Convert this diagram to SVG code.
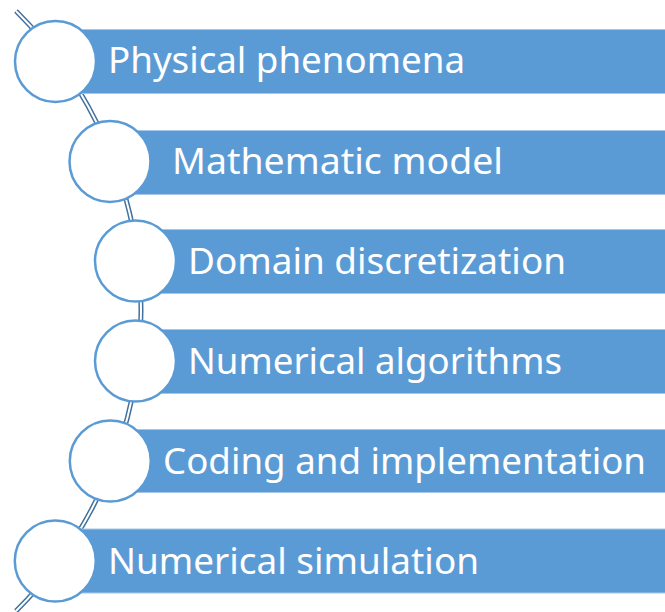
<svg xmlns="http://www.w3.org/2000/svg" width="665" height="612" viewBox="0 0 665 612">
  <style>
    .bar { fill: #5b9bd5; stroke: #a6c7ea; stroke-width: 1; }
    .disc { fill: #ffffff; stroke: #5b9bd5; stroke-width: 2.5; }
    .label { fill: #ffffff; font-family: "Noto Sans", "Open Sans", sans-serif; font-size: 37px; }
    .rail-outer { fill: none; stroke: #41719c; stroke-width: 5; }
    .rail-inner { fill: none; stroke: #ffffff; stroke-width: 2; }
  </style>

  <rect width="665" height="612" fill="#ffffff"/>

  <!-- curved spine behind the step circles -->
  <g id="connectors">
    <path class="rail-outer" d="M 16 11 A 422.5 422.5 0 0 1 16 611"/>
    <path class="rail-inner" d="M 16 11 A 422.5 422.5 0 0 1 16 611"/>
  </g>

  <g id="step-1">
    <rect class="bar" x="55" y="29.5" width="612" height="64"/>
    <circle class="disc" cx="55.5" cy="61.5" r="40.5"/>
    <text class="label" x="108" y="73" textLength="357" lengthAdjust="spacingAndGlyphs">Physical phenomena</text>
  </g>

  <g id="step-2">
    <rect class="bar" x="110" y="130.5" width="557" height="64"/>
    <circle class="disc" cx="110" cy="161.5" r="40.5"/>
    <text class="label" x="172" y="174" textLength="331" lengthAdjust="spacingAndGlyphs">Mathematic model</text>
  </g>

  <g id="step-3">
    <rect class="bar" x="135" y="229.5" width="532" height="64"/>
    <circle class="disc" cx="135.5" cy="261" r="40.5"/>
    <text class="label" x="188" y="273.5" textLength="378" lengthAdjust="spacingAndGlyphs">Domain discretization</text>
  </g>

  <g id="step-4">
    <rect class="bar" x="135" y="329.5" width="532" height="64"/>
    <circle class="disc" cx="135.5" cy="361" r="40.5"/>
    <text class="label" x="188" y="373.5" textLength="374" lengthAdjust="spacingAndGlyphs">Numerical algorithms</text>
  </g>

  <g id="step-5">
    <rect class="bar" x="110" y="429.5" width="557" height="63"/>
    <circle class="disc" cx="110.3" cy="461" r="40.5"/>
    <text class="label" x="163" y="473.5" textLength="483" lengthAdjust="spacingAndGlyphs">Coding and implementation</text>
  </g>

  <g id="step-6">
    <rect class="bar" x="55" y="529" width="612" height="64"/>
    <circle class="disc" cx="55.3" cy="561" r="40.5"/>
    <text class="label" x="108" y="573.5" textLength="371" lengthAdjust="spacingAndGlyphs">Numerical simulation</text>
  </g>
</svg>
